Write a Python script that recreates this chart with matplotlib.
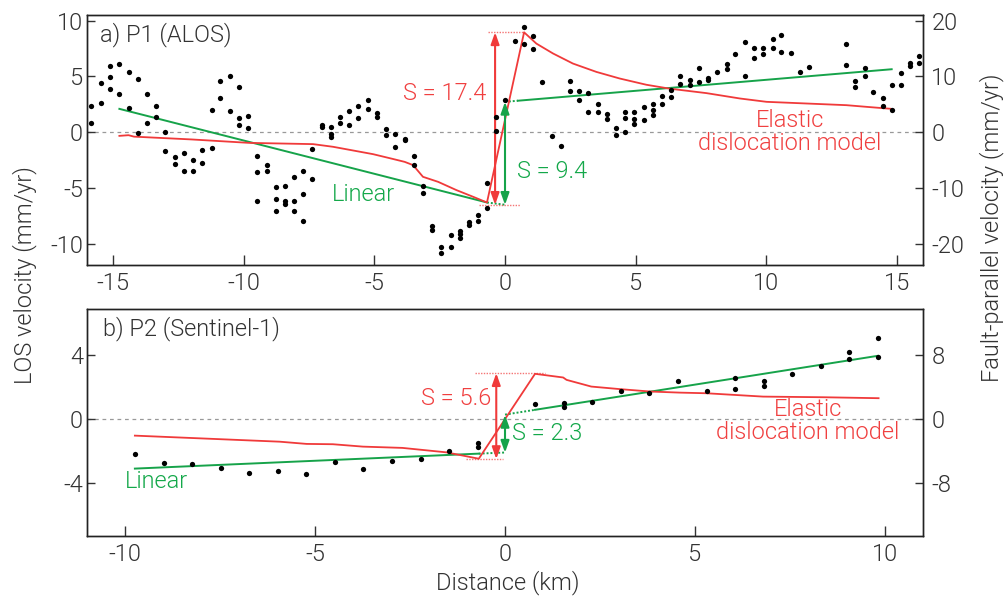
import matplotlib
matplotlib.use("Agg")
import matplotlib.pyplot as plt

plt.rcParams['font.family'] = ['Roboto', 'DejaVu Sans']
plt.rcParams['font.weight'] = 300
plt.rcParams['text.color'] = '#333333'
plt.rcParams['axes.labelcolor'] = '#333333'
plt.rcParams['xtick.color'] = '#333333'
plt.rcParams['ytick.color'] = '#333333'

RED = '#f03a3a'
GREEN = '#16a34a'
REDTXT = '#f04040'
GREENTXT = '#14a84a'

# ---------------- Panel a data (P1, ALOS) ----------------
a_dot_x = [-15.83, -15.83, -15.48, -15.48, -15.11, -15.11, -15.11, -14.76, -14.76,
           -14.41, -14.41, -14.06, -14.06, -13.71, -13.71, -13.35, -13.35, -13.00, -13.00,
           -12.65, -12.65, -12.30, -12.30, -11.94, -11.94, -11.59, -11.59, -11.23, -11.23,
           -10.90, -10.90, -10.54, -10.54, -10.18, -10.18, -10.18, -9.82, -9.82,
           -9.48, -9.48, -9.48, -9.12, -9.12, -8.78, -8.78, -8.78, -8.42, -8.42, -8.42,
           -8.08, -8.08, -8.08, -7.72, -7.72, -7.72, -7.37, -7.37, -7.02, -7.02,
           -6.66, -6.66, -6.66, -6.32, -6.32, -5.96, -5.96, -5.61, -5.61, -5.26, -5.26,
           -4.91, -4.91, -4.57, -4.57, -4.21, -4.21, -3.84, -3.84, -3.50, -3.50,
           -3.14, -3.14, -2.79, -2.79, -2.44, -2.44, -2.08, -2.08, -1.73, -1.73, -1.73,
           -1.39, -1.39, -1.03, -1.03, -0.69, -0.69, -0.33, -0.33, 0.00,
           0.37, 0.72, 0.72, 1.07, 1.07, 1.43, 1.78, 2.13, 2.49, 2.49, 2.83, 2.83,
           3.19, 3.19, 3.55, 3.55, 3.89, 3.89, 4.25, 4.25, 4.61, 4.61, 4.61,
           4.95, 4.95, 4.95, 5.31, 5.31, 5.65, 5.65, 5.65, 6.00, 6.00, 6.36, 6.36,
           6.71, 6.71, 7.07, 7.07, 7.43, 7.43, 7.77, 7.77, 8.12, 8.48, 8.48, 8.82,
           9.18, 9.18, 9.52, 9.52, 9.88, 9.88, 10.24, 10.24, 10.58, 10.58, 10.94,
           11.29, 11.64, 13.06, 13.06, 13.40, 13.40, 13.76, 13.76, 14.10, 14.46, 14.46,
           14.80, 14.80, 15.16, 15.16, 15.50, 15.50, 15.86, 15.86]
a_dot_y = [2.39, 0.78, 4.41, 2.60, 5.91, 4.98, 3.88, 6.15, 3.46,
           5.43, 2.15, 4.78, -0.06, 3.46, 0.78, 2.33, 1.40, 0.00, -1.70,
           -2.20, -2.84, -1.85, -3.46, -2.51, -3.52, -1.61, -2.75, -1.40, 2.00,
           4.60, 3.02, 5.01, 1.91, 4.06, 1.31, 0.63, 1.43, 0.39,
           -2.09, -3.58, -6.15, -2.93, -3.46, -4.95, -5.97, -7.05, -4.80, -6.18, -6.48,
           -4.06, -6.18, -7.07, -3.46, -5.52, -7.97, -1.52, -4.18, 0.60, 0.42,
           0.45, -0.12, -0.39, 1.37, 0.78, 1.91, 0.60, 2.33, 1.23, 2.86, 2.09,
           1.73, 1.37, 0.30, -0.24, -0.12, -1.31, -0.60, -0.72, -2.15, -2.93,
           -4.78, -5.49, -8.39, -8.77, -10.30, -10.83, -9.22, -10.32, -8.86, -9.13, -9.46,
           -8.03, -8.30, -7.46, -7.94, -4.54, -6.78, 1.37, 0.12, 2.89,
           8.17, 9.43, 7.88, 8.62, 7.46, 4.50, -0.36, -1.25, 4.57, 3.70, 3.67, 2.86,
           3.52, 1.79, 2.53, 1.79, 1.64, 1.19, 0.39, -0.27, 1.79, 1.28, 0.00,
           1.79, 1.16, 0.74, 2.24, 1.07, 2.50, 1.97, 1.58, 3.25, 2.57, 3.76, 3.16,
           5.01, 4.33, 4.72, 4.27, 5.79, 4.54, 4.86, 4.68, 5.40, 6.09, 5.67, 6.98,
           8.06, 5.07, 7.52, 6.69, 7.52, 7.01, 8.33, 7.58, 8.75, 7.19, 7.10,
           5.37, 5.88, 7.90, 6.06, 4.60, 4.09, 5.76, 5.07, 3.58, 3.07, 2.39,
           4.27, 2.03, 5.34, 4.27, 6.24, 5.91, 6.83, 6.24]

a_model_x = [-14.76, -14.41, -14.2, -12.0, -9.78, -7.35, -6.58, -5.05, -4.29, -3.84,
             -3.52, -3.14, -2.56, -1.86, -1.22, -0.69,
             0.73, 1.2, 1.84, 2.6, 3.5, 4.39, 5.41, 6.3, 7.71, 8.99, 10.01, 11.54,
             13.07, 13.84, 14.8]
a_model_y = [-0.33, -0.27, -0.40, -0.65, -0.96, -1.07, -1.31, -1.97, -2.40, -2.66,
             -2.95, -4.00, -4.45, -5.19, -5.79, -6.30,
             8.95, 7.94, 7.05, 6.15, 5.40, 4.81, 4.25, 3.90, 3.50, 3.02, 2.72, 2.57,
             2.42, 2.27, 2.09]

a_lin_left_x = [-14.76, -0.69]
a_lin_left_y = [2.09, -6.30]
a_lin_right_x = [0.5, 14.8]
a_lin_right_y = [2.82, 5.64]
a_lin_gap_left_x = [-0.69, 0.0]
a_lin_gap_left_y = [-6.30, -6.50]
a_lin_gap_right_x = [0.0, 0.5]
a_lin_gap_right_y = [2.72, 2.82]

a_model_top, a_model_bot = 8.95, -6.51
a_lin_top, a_lin_bot = 2.72, -6.51
a_S_model, a_S_lin = "S = 17.4", "S = 9.4"

# ---------------- Panel b data (P2, Sentinel-1) ----------------
b_dot_x = [-9.74, -8.98, -8.23, -7.48, -6.74, -5.98, -5.23, -4.47, -3.73, -2.98,
           -2.22, -1.47, -0.72, -0.72, 0.79, 1.54, 1.54, 2.29, 3.04, 3.79, 4.55,
           5.31, 6.06, 6.06, 6.81, 6.81, 7.56, 8.31, 9.06, 9.06, 9.81, 9.81]
b_dot_y = [-2.22, -2.78, -2.81, -3.10, -3.38, -3.29, -3.46, -2.68, -3.17, -2.64,
           -2.50, -2.01, -1.49, -1.74, 0.92, 0.99, 0.77, 1.03, 1.78, 1.64, 2.41,
           1.74, 2.56, 1.87, 2.41, 2.08, 2.85, 3.33, 4.23, 3.79, 5.05, 3.90]

b_model_x = [-9.74, -5.93, -5.22, -4.53, -3.74, -2.70, -1.54, -0.69,
             0.79, 1.53, 1.62, 2.27, 3.02, 3.81, 4.60, 5.30, 6.79, 8.37, 9.83]
b_model_y = [-1.05, -1.43, -1.57, -1.59, -1.74, -1.82, -2.10, -2.50,
             2.83, 2.60, 2.45, 2.03, 1.87, 1.72, 1.65, 1.61, 1.40, 1.36, 1.30]

b_lin_left_x = [-9.74, -0.69]
b_lin_left_y = [-3.12, -2.18]
b_lin_right_x = [0.79, 9.81]
b_lin_right_y = [0.57, 3.96]
b_lin_gap_left_x = [-0.69, 0.0]
b_lin_gap_left_y = [-2.18, -2.11]
b_lin_gap_right_x = [0.0, 0.79]
b_lin_gap_right_y = [0.27, 0.57]

b_model_top, b_model_bot = 2.87, -2.52
b_lin_top, b_lin_bot = 0.25, -2.12
b_S_model, b_S_lin = "S = 5.6", "S = 2.3"

FS = 17

fig = plt.figure(figsize=(10.08, 5.98), dpi=100)
ax1 = fig.add_axes([0.0863, 0.5569, 0.8294, 0.4180])
ax2 = fig.add_axes([0.0863, 0.1037, 0.8294, 0.3796])


def style(ax, xlim, ylim, xticks, yticks, rticks):
    ax.set_xlim(*xlim)
    ax.set_ylim(*ylim)
    ax.set_xticks(xticks)
    ax.set_yticks(yticks)
    ax.set_xticklabels([str(t) for t in xticks])
    ax.set_yticklabels([str(t) for t in yticks])
    ax.tick_params(axis='x', direction='in', length=7, width=1.0, labelsize=FS, pad=5, top=False)
    ax.tick_params(axis='y', direction='in', length=5.5, width=1.0, labelsize=FS, pad=3, right=False)
    for s in ax.spines.values():
        s.set_linewidth(1.0)
        s.set_color('#222222')
    ax.axhline(0, color='#999999', lw=0.9, ls=(0, (3, 3)), zorder=1)
    axr = ax.twinx()
    axr.set_ylim(ylim[0] * 2, ylim[1] * 2)
    axr.set_yticks(rticks)
    axr.set_yticklabels([str(t) for t in rticks])
    axr.tick_params(axis='y', direction='in', length=5.5, width=1.0, labelsize=FS, pad=6)
    for s in axr.spines.values():
        s.set_linewidth(1.0)
        s.set_color('#222222')
    return axr


style(ax1, (-16, 16), (-11.9, 10.5), [-15, -10, -5, 0, 5, 10, 15], [-10, -5, 0, 5, 10],
      [-20, -10, 0, 10, 20])
style(ax2, (-11, 11), (-7.35, 6.9), [-10, -5, 0, 5, 10], [-4, 0, 4], [-8, 0, 8])


def draw_panel(ax, dx, dy, mx, my, llx, lly, lrx, lry, glx, gly, grx, gry,
               mtop, mbot, ltop, lbot, xr_arrow, mdot_top, mdot_bot):
    ax.plot(llx, lly, color=GREEN, lw=1.4, zorder=3)
    ax.plot(lrx, lry, color=GREEN, lw=1.4, zorder=3)
    ax.plot(glx, gly, color=GREEN, lw=1.4, ls=(0, (1, 1)), zorder=3)
    ax.plot(grx, gry, color=GREEN, lw=1.4, ls=(0, (1, 1)), zorder=3)
    ax.plot(mx, my, color=RED, lw=1.3, zorder=3)
    ax.plot(mdot_top, [mtop, mtop], color=RED, lw=1.0, ls=(0, (1, 1)), alpha=0.7, zorder=3)
    ax.plot(mdot_bot, [mbot, mbot], color=RED, lw=1.0, ls=(0, (1, 1)), alpha=0.7, zorder=3)
    ax.annotate('', xy=(xr_arrow, mtop), xytext=(xr_arrow, mbot),
                arrowprops=dict(arrowstyle='<|-|>,head_length=0.7,head_width=0.25',
                                color=RED, lw=1.5, shrinkA=0, shrinkB=0), zorder=4)
    ax.annotate('', xy=(0, ltop), xytext=(0, lbot),
                arrowprops=dict(arrowstyle='<|-|>,head_length=0.7,head_width=0.25',
                                color=GREEN, lw=1.5, shrinkA=0, shrinkB=0), zorder=4)
    ax.plot(dx, dy, 'o', color='black', ms=3.8, mec='none', zorder=5)


draw_panel(ax1, a_dot_x, a_dot_y, a_model_x, a_model_y,
           a_lin_left_x, a_lin_left_y, a_lin_right_x, a_lin_right_y,
           a_lin_gap_left_x, a_lin_gap_left_y, a_lin_gap_right_x, a_lin_gap_right_y,
           a_model_top, a_model_bot, a_lin_top, a_lin_bot, -0.38,
           [-0.67, 0.73], [-1.0, 0.56])
draw_panel(ax2, b_dot_x, b_dot_y, b_model_x, b_model_y,
           b_lin_left_x, b_lin_left_y, b_lin_right_x, b_lin_right_y,
           b_lin_gap_left_x, b_lin_gap_left_y, b_lin_gap_right_x, b_lin_gap_right_y,
           b_model_top, b_model_bot, b_lin_top, b_lin_bot, -0.23,
           [-0.8, 1.06], [-1.02, -0.05])

# Panel titles
ax1.text(0.016, 0.92, "a) P1 (ALOS)", transform=ax1.transAxes, fontsize=FS,
         ha='left', va='center')
ax2.text(0.019, 0.912, "b) P2 (Sentinel-1)", transform=ax2.transAxes, fontsize=FS,
         ha='left', va='center')

# Panel a annotations
ax1.text(-0.72, 3.5, a_S_model, color=REDTXT, fontsize=FS, ha='right', va='center')
ax1.text(0.44, -3.54, a_S_lin, color=GREENTXT, fontsize=FS, ha='left', va='center')
ax1.text(-6.62, -5.55, "Linear", color=GREENTXT, fontsize=FS, ha='left', va='center')
ax1.text(10.9, 0.0, "Elastic\ndislocation model", color=REDTXT, fontsize=FS,
         ha='center', va='center', linespacing=1.0)

# Panel b annotations
ax2.text(-0.36, 1.26, b_S_model, color=REDTXT, fontsize=FS, ha='right', va='center')
ax2.text(0.19, -0.94, b_S_lin, color=GREENTXT, fontsize=FS, ha='left', va='center')
ax2.text(-9.99, -3.9, "Linear", color=GREENTXT, fontsize=FS, ha='left', va='center')
ax2.text(7.97, -0.16, "Elastic\ndislocation model", color=REDTXT, fontsize=FS,
         ha='center', va='center', linespacing=1.0)

# Axis labels (figure level)
fig.text(25 / 1008, 1 - 275 / 598, "LOS velocity (mm/yr)", rotation=90, fontsize=FS,
         ha='center', va='center')
fig.text(992 / 1008, 1 - 228 / 598, "Fault-parallel velocity (mm/yr)", rotation=90,
         fontsize=FS, ha='center', va='center')
fig.text(508 / 1008, 1 - 583 / 598, "Distance (km)", fontsize=FS, ha='center', va='center')

fig.savefig("out.png", dpi=100)
